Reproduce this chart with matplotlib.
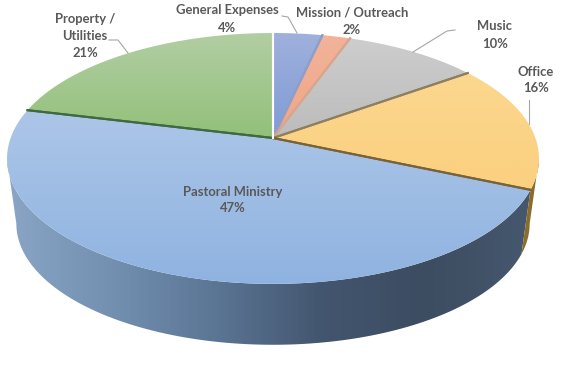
import numpy as np
import matplotlib
matplotlib.use("Agg")
import matplotlib.pyplot as plt
from matplotlib.patches import Polygon
from matplotlib.colors import LinearSegmentedColormap

plt.rcParams['font.family'] = ['Lato', 'DejaVu Sans']

# Data
categories = ["General Expenses", "Mission / Outreach", "Music", "Office", "Pastoral Ministry", "Property /\nUtilities"]
values = [3.5, 2.0, 9.6, 16.4, 47.3, 21.2]
labels = ["4%", "2%", "10%", "16%", "47%", "21%"]
top_colors = [("#9fb0dc", "#7f9bd6"), ("#f2b39a", "#f0a585"), ("#cdcdcd", "#bcbcbc"),
              ("#fbd78f", "#fbd07f"), ("#acc6e8", "#8fb3e0"), ("#b2cea3", "#92c07a")]
edge_colors = ["#8d9fc8", "#d9a58d", "#8f7f60", "#7a6238", "#3f6a3f", "#ffffff"]
label_pos = [(227, 19), (352, 21), (495, 35), (536, 80), (233, 200), (85, 36)]

# pie geometry in pixels (tilted disc with perspective)
cx, cy = 273, 138
A, B, k = 262.4, 122.1, 0.163
low_scale, low_cy = 0.965, 204
tangent = 0.164


def project(theta, scale=1.0, y0=cy):
    w = 1 + k * np.cos(theta)
    return cx + scale * A * np.sin(theta) / w, y0 - scale * B * np.cos(theta) / w


def wall_points(t0, t1):
    th = np.linspace(t0, t1, 300)
    x1, y1 = project(th)
    x2, y2 = project(th, low_scale, low_cy)
    return np.r_[np.c_[x1, y1], np.c_[x2, y2][::-1]]


fig = plt.figure(figsize=(5.68, 3.69), dpi=100)
ax = fig.add_axes([0, 0, 1, 1])

edges = np.cumsum([0] + values) / sum(values) * 2 * np.pi

# side wall, only the front part of the disc shows
wall = Polygon(wall_points(edges[4], 3 * np.pi / 2 - tangent), closed=True, fc="none", ec="none")
ax.add_patch(wall)
wall_cmap = LinearSegmentedColormap.from_list("wall", ["#8aa5c6", "#7390b0", "#5b7594", "#43566f", "#3c4c61", "#46586e"])
img = ax.imshow(np.linspace(0, 1, 256)[None, :], cmap=wall_cmap, extent=(7, 530, 369, 0), aspect="auto", zorder=1)
img.set_clip_path(wall)

# office part of the wall
ax.add_patch(Polygon(wall_points(np.pi / 2 + tangent, edges[4]), closed=True, fc="#8a6c2c", ec="none", zorder=1.5))

# top surface
for i in range(len(values)):
    th = np.linspace(edges[i], edges[i + 1], 120)
    x, y = project(th)
    pts = np.r_[[[cx, cy]], np.c_[x, y]]
    poly = Polygon(pts, closed=True, fc="none", ec="none", zorder=2)
    ax.add_patch(poly)
    cmap = LinearSegmentedColormap.from_list("top%d" % i, top_colors[i])
    img = ax.imshow(np.linspace(0, 1, 64)[:, None], cmap=cmap, extent=(0, 568, max(y.max(), cy), min(y.min(), cy)),
                    aspect="auto", zorder=2)
    img.set_clip_path(poly)
    ax.plot([cx, x[0]], [cy, y[0]], color=edge_colors[i - 1], lw=1.5, zorder=3)
    ax.plot([cx, x[-1]], [cy, y[-1]], color=edge_colors[i], lw=1.5, zorder=3)
ax.set_xlim(0, 568)
ax.set_ylim(369, 0)
ax.axis("off")

# leader lines
ax.plot([282, 288, 297], [16, 17, 33], color="#a6a6a6", lw=0.8, zorder=4)
ax.plot([455, 447, 413], [30, 31, 52], color="#a6a6a6", lw=0.8, zorder=4)
ax.plot([529, 529], [100, 124], color="#a6a6a6", lw=0.8, zorder=4)
ax.plot([109, 118, 128], [40, 40, 53], color="#a6a6a6", lw=0.8, zorder=4)

for name, pct, (x, y) in zip(categories, labels, label_pos):
    ax.text(x, y, name + "\n" + pct, ha="center", va="center", fontsize=9.4, color="#595959",
            fontweight="bold", linespacing=1.5, zorder=5)

fig.savefig("out.png", dpi=100)
